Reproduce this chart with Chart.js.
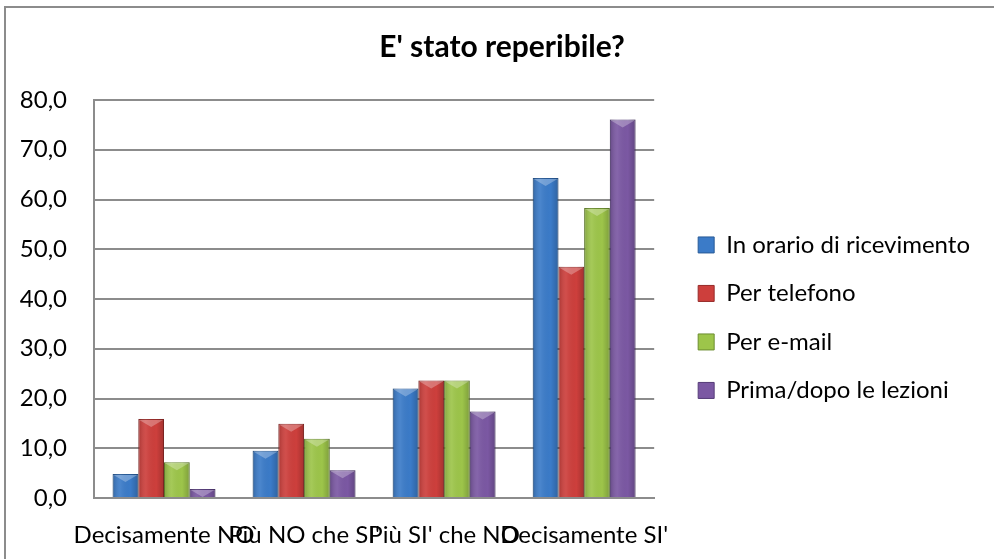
<!DOCTYPE html>
<html lang="it">
<head>
  <meta charset="UTF-8" />
  <title>E' stato reperibile?</title>
  <script src="https://cdn.jsdelivr.net/npm/chart.js"></script>
  <style>
    body { margin: 0; background: #fff; }
    #wrap { position: relative; width: 994px; height: 559px; overflow: hidden; }
    #frame {
      position: absolute; left: 4px; top: 6px; right: -10px; bottom: -10px;
      border-left: 2px solid #8c8c8c; border-top: 2px solid #8c8c8c;
    }
    #chart { position: absolute; left: 0; top: 0; }
  </style>
</head>
<body>
  <div id="wrap">
    <div id="frame"></div>
    <canvas id="chart" width="994" height="559"></canvas>
  </div>
  <script>
    const categories = ["Decisamente NO", "Più NO che SI'", "Più SI' che NO", "Decisamente SI'"];
    const seriesNames = ["In orario di ricevimento", "Per telefono", "Per e-mail", "Prima/dopo le lezioni"];
    const ricevimento = [4.8, 9.5, 22.0, 64.3];
    const telefono = [15.9, 14.9, 23.6, 46.5];
    const email = [7.2, 11.9, 23.6, 58.3];
    const lezioni = [1.8, 5.6, 17.4, 76.1];
    const fills = ['#3b7bc8', '#cd3f3c', '#9dc54a', '#7b58a3'];
    const edges = ['#285a96', '#962b29', '#6c8d30', '#553c78'];

    const values = [ricevimento, telefono, email, lezioni];
    const font = 'Lato';

    // excel-ish bevel: shade the sides and put a light wedge on top of each bar
    const bevel = {
      id: 'bevel',
      afterLayout(chart) {
        // title sits a bit right of the canvas centre in the original
        chart.titleBlock.left += 24;
      },
      afterDatasetsDraw(chart) {
        const ctx = chart.ctx;
        ctx.save();
        chart.data.datasets.forEach((ds, i) => {
          chart.getDatasetMeta(i).data.forEach(bar => {
            const l = bar.x - bar.width / 2, w = bar.width;
            const t = bar.y, h = bar.base - bar.y;
            if (h <= 0) return;
            const g = ctx.createLinearGradient(l, 0, l + w, 0);
            g.addColorStop(0, 'rgba(0,0,0,0.18)');
            g.addColorStop(0.3, 'rgba(255,255,255,0.08)');
            g.addColorStop(0.7, 'rgba(0,0,0,0)');
            g.addColorStop(1, 'rgba(0,0,0,0.2)');
            ctx.fillStyle = g;
            ctx.fillRect(l, t, w, h);
            const cap = Math.min(8, h);
            ctx.fillStyle = 'rgba(255,255,255,0.28)';
            ctx.beginPath();
            ctx.moveTo(l + 1, t + 1);
            ctx.lineTo(l + w - 1, t + 1);
            ctx.lineTo(l + w / 2, t + cap);
            ctx.closePath();
            ctx.fill();
          });
        });
        ctx.restore();
      }
    };

    new Chart(document.getElementById('chart'), {
      type: 'bar',
      data: {
        labels: categories,
        datasets: values.map((v, i) => ({
          label: seriesNames[i],
          data: v,
          backgroundColor: fills[i],
          borderColor: edges[i],
          borderWidth: 1,
          barPercentage: 1,
          categoryPercentage: 0.734
        }))
      },
      options: {
        responsive: false,
        animation: false,
        layout: { padding: { left: 0, top: 0, right: 14, bottom: 0 } },
        scales: {
          x: {
            grid: { display: false, drawTicks: false },
            border: { color: '#8c8c8c', width: 2 },
            ticks: {
              autoSkip: false, maxRotation: 0, minRotation: 0,
              padding: 23, color: '#000', font: { family: font, size: 24 }
            },
            afterFit: s => { s.height = 61; }
          },
          y: {
            min: 0, max: 80,
            grid: { color: '#8c8c8c', lineWidth: 2, drawTicks: false },
            border: { color: '#8c8c8c', width: 2 },
            ticks: {
              stepSize: 10, padding: 27, color: '#000',
              font: { family: font, size: 24 },
              callback: v => v.toFixed(1).replace('.', ',')
            },
            afterFit: s => { s.width = 94; }
          },
          gap: {
            position: 'right', display: true,
            grid: { display: false }, border: { display: false },
            ticks: { display: false },
            afterFit: s => { s.width = 19.5; }
          }
        },
        plugins: {
          title: {
            display: true, text: "E' stato reperibile?", color: '#000',
            font: { family: font, size: 30, weight: 'bold' },
            padding: { top: 29, bottom: 35 }
          },
          legend: {
            position: 'right',
            maxWidth: 400,
            title: { display: true, text: ' ', font: { size: 12 }, padding: 31 },
            labels: {
              boxWidth: 16, boxHeight: 16, padding: 24.5, color: '#000',
              font: { family: font, size: 24 }
            }
          },
          tooltip: { enabled: false }
        }
      },
      plugins: [bevel]
    });
  </script>
</body>
</html>
